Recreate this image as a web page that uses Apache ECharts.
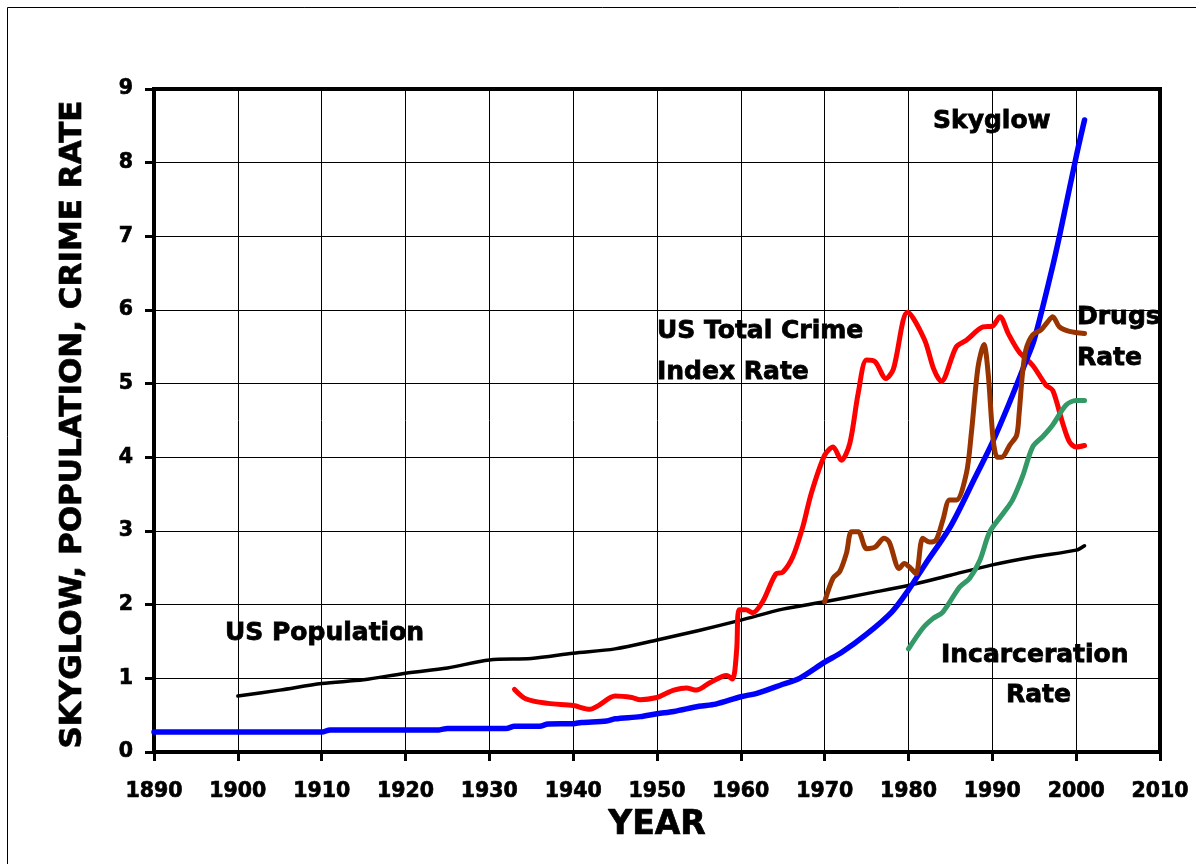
<!DOCTYPE html>
<html>
<head>
<meta charset="utf-8">
<script src="https://cdn.jsdelivr.net/npm/echarts@6/dist/echarts.min.js"></script>
<style>
html,body{margin:0;padding:0;background:#fff;}
#chart{width:1196px;height:864px;}
</style>
</head>
<body>
<div id="chart"></div>
<script>
// ---- Data ----
const skyglowYears = [1890,1900,1910,1911,1920,1924,1925,1932,1933,1936,1937,1940,1941,1944,1945,1948,1950,1952,1955,1957,1960,1962,1965,1967,1970,1972,1975,1978,1980,1982,1985,1988,1990,1992,1994,1995,1997,1998,2000,2001];
const skyglowValues = [0.27,0.27,0.27,0.30,0.30,0.30,0.32,0.32,0.35,0.35,0.38,0.385,0.40,0.42,0.45,0.48,0.52,0.55,0.62,0.65,0.75,0.80,0.92,1.00,1.22,1.35,1.60,1.90,2.20,2.55,3.06,3.74,4.20,4.73,5.30,5.60,6.50,7.00,8.08,8.58];

const populationYears = [1900,1905,1910,1915,1920,1925,1930,1935,1940,1945,1950,1955,1960,1965,1970,1975,1980,1985,1990,1995,2000,2001];
const populationValues = [0.76,0.84,0.93,0.98,1.07,1.14,1.25,1.27,1.34,1.40,1.52,1.65,1.79,1.94,2.04,2.15,2.26,2.40,2.54,2.65,2.74,2.80];

const crimeYears = [1933,1934.4,1937,1940,1942,1943,1945,1947,1948,1950,1951,1952,1953.5,1954.7,1956.3,1958.3,1959,1959.5,1959.8,1960.6,1961.4,1962.6,1964.2,1965,1966.2,1967.4,1968.4,1970,1971,1972,1973,1974,1975,1976,1977.3,1978.2,1979.9,1981.9,1983,1983.9,1985.7,1986.9,1988.9,1990,1990.9,1991.9,1993.2,1994.8,1996.4,1997.2,1998.4,1999.2,2000,2001];
const crimeValues = [0.85,0.72,0.66,0.63,0.58,0.63,0.76,0.74,0.71,0.74,0.79,0.84,0.87,0.84,0.94,1.04,0.99,1.38,1.93,1.93,1.89,2.04,2.42,2.44,2.65,3.06,3.51,4.03,4.14,3.96,4.19,4.87,5.32,5.30,5.07,5.20,5.97,5.60,5.20,5.03,5.50,5.59,5.77,5.78,5.91,5.68,5.43,5.25,4.98,4.91,4.46,4.21,4.14,4.16];

const drugsYears = [1970,1971,1971.8,1972.6,1973.2,1974,1975,1976,1977.1,1977.7,1978.9,1979.5,1980.3,1980.9,1981.7,1982.5,1983.3,1984.1,1984.9,1985.7,1986.9,1987.5,1988.3,1989,1989.5,1990.1,1990.6,1991.1,1992.1,1992.9,1993.2,1993.6,1994,1994.8,1995.8,1996.6,1997.2,1998,1999.2,2001];
const drugsValues = [2.04,2.36,2.45,2.70,2.99,2.99,2.76,2.78,2.90,2.85,2.49,2.56,2.49,2.42,2.90,2.85,2.88,3.15,3.42,3.42,3.78,4.33,5.23,5.53,5.14,4.24,4.00,4.00,4.17,4.30,4.60,5.14,5.46,5.66,5.73,5.84,5.91,5.77,5.71,5.68];

const incarcerationYears = [1980,1981.7,1982.9,1984.1,1986.1,1987.3,1988.5,1989.7,1991.3,1992.4,1993.6,1994.8,1996,1997.2,1998.8,2000,2001];
const incarcerationValues = [1.40,1.68,1.81,1.90,2.24,2.36,2.60,2.99,3.24,3.42,3.74,4.14,4.28,4.44,4.71,4.77,4.77];

const labelFont = '"DejaVu Sans", "Liberation Sans", sans-serif';

function pairs(xs, ys){ return xs.map((x,i)=>[x, ys[i]]); }

const chart = echarts.init(document.getElementById('chart'), null, {renderer:'canvas'});

function lineSeries(name, xs, ys, color, width, z){
  return {
    name, type:'line', data: pairs(xs, ys), showSymbol:false, symbol:'none',
    smooth:0.3, z,
    lineStyle:{color, width, cap:'round', join:'round'},
    itemStyle:{color}
  };
}

const annotations = [
  {text:'Skyglow', x:933, y:121},
  {text:'US Total Crime', x:657, y:331},
  {text:'Index Rate', x:657, y:372},
  {text:'US Population', x:225, y:633},
  {text:'Drugs', x:1077, y:317.5},
  {text:'Rate', x:1077, y:358},
  {text:'Incarceration', x:941, y:655},
  {text:'Rate', x:1006, y:695}
];

const heavy = {textBorderColor:'#000', textBorderWidth:0.7};

chart.setOption({
  backgroundColor:'#ffffff',
  animation:false,
  grid:{left:154, top:89, width:1006, height:663, show:true, borderColor:'#000', borderWidth:4, backgroundColor:'transparent'},
  xAxis:{
    type:'value', min:1890, max:2010, interval:10,
    name:'YEAR', nameLocation:'middle', nameGap:57,
    nameTextStyle:Object.assign({fontFamily:labelFont, fontWeight:'bold', fontSize:33, color:'#000'}, heavy),
    axisLine:{show:true, onZero:false, lineStyle:{color:'#000', width:4}},
    axisTick:{show:true, inside:false, length:9, lineStyle:{color:'#000', width:3}},
    axisLabel:Object.assign({margin:29, fontFamily:labelFont, fontWeight:'bold', fontSize:20.5, color:'#000', formatter:v=>String(v)}, heavy),
    splitLine:{show:true, lineStyle:{color:'#000', width:1}}
  },
  yAxis:{
    type:'value', min:0, max:9, interval:1,
    name:'SKYGLOW, POPULATION, CRIME RATE', nameLocation:'middle', nameGap:66, nameRotate:90,
    nameTextStyle:Object.assign({fontFamily:labelFont, fontWeight:'bold', fontSize:31, color:'#000', padding:[0,8,0,0]}, heavy),
    axisLine:{show:true, onZero:false, lineStyle:{color:'#000', width:4}},
    axisTick:{show:true, inside:false, length:9, lineStyle:{color:'#000', width:3}},
    axisLabel:Object.assign({margin:21, fontFamily:labelFont, fontWeight:'bold', fontSize:20.5, color:'#000'}, heavy),
    splitLine:{show:true, lineStyle:{color:'#000', width:1}}
  },
  series:[
    lineSeries('US Population', populationYears, populationValues, '#000000', 3.5, 2),
    lineSeries('US Total Crime Index Rate', crimeYears, crimeValues, '#ff0000', 5, 3),
    lineSeries('Skyglow', skyglowYears, skyglowValues, '#0000ff', 5.5, 4),
    lineSeries('Drugs Rate', drugsYears, drugsValues, '#993300', 5, 5),
    lineSeries('Incarceration Rate', incarcerationYears, incarcerationValues, '#339966', 5, 6)
  ],
  graphic:[
    {type:'rect', silent:true, z:-10, shape:{x:7.5, y:7.5, width:1300, height:1000}, style:{fill:'none', stroke:'#000', lineWidth:1}}
  ].concat(annotations.map(a=>({
    type:'text', silent:true, z:100, x:a.x, y:a.y,
    style:{text:a.text, fill:'#000', stroke:'#000', lineWidth:0.8, font:'bold 25px ' + labelFont, align:'left', verticalAlign:'middle'}
  })))
});
</script>
</body>
</html>
